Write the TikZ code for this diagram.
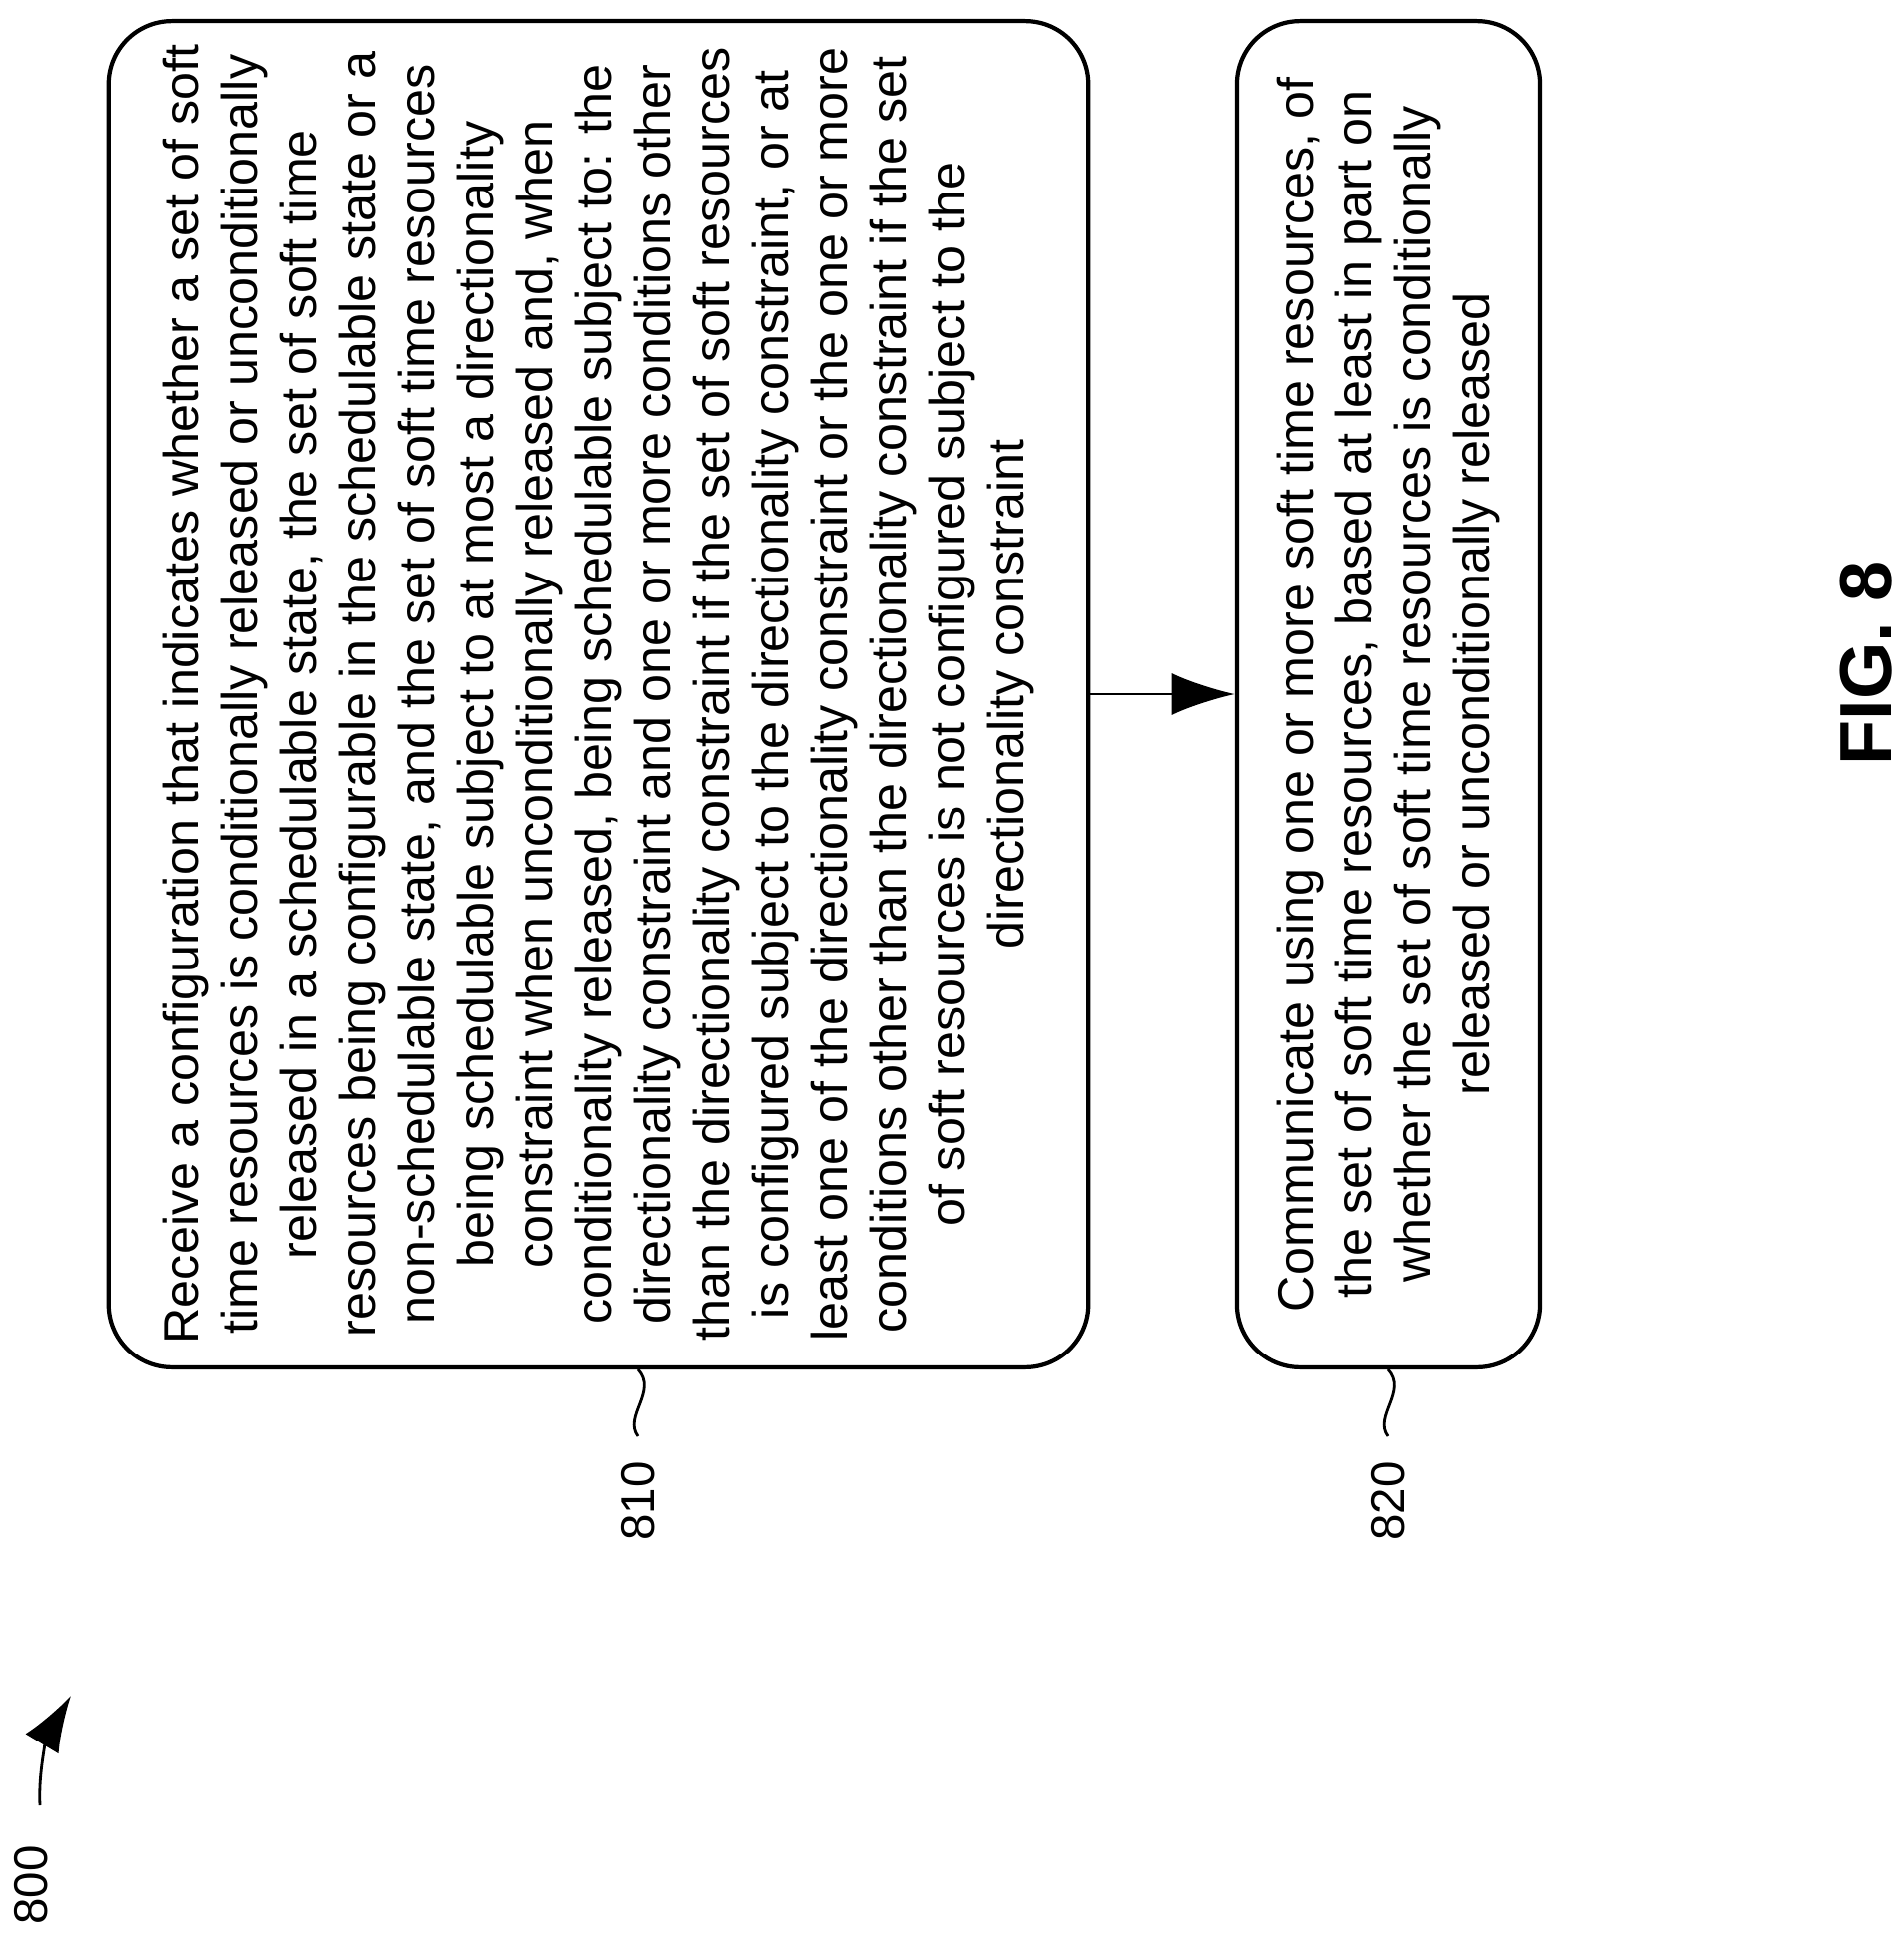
\documentclass[tikz,border=0pt]{standalone}
\usepackage{fontspec}
\setmainfont{Liberation Sans}
\usetikzlibrary{positioning,arrows.meta}
\tikzset{
  stepbox/.style={draw, very thick, rounded corners=18pt, rotate=90, align=center,
    font=\fontsize{14.3}{16.8}\selectfont},
  reflabel/.style={rotate=90, font=\fontsize{13.5}{15}\selectfont},
  squig/.style={thick},
}
\begin{document}
\begin{tikzpicture}[x=0.01cm, y=-0.01cm]
\useasboundingbox (0,0) rectangle (1909,1939);
% boxes
\node[stepbox, minimum width=13.49cm, minimum height=9.82cm] (b810) at (600,696) {Receive a configuration that indicates whether a set of soft\\
time resources is conditionally released or unconditionally\\
released in a schedulable state, the set of soft time\\
resources being configurable in the schedulable state or a\\
non-schedulable state, and the set of soft time resources\\
being schedulable subject to at most a directionality\\
constraint when unconditionally released and, when\\
conditionality released, being schedulable subject to: the\\
directionality constraint and one or more conditions other\\
than the directionality constraint if the set of soft resources\\
is configured subject to the directionality constraint, or at\\
least one of the directionality constraint or the one or more\\
conditions other than the directionality constraint if the set\\
of soft resources is not configured subject to the\\
directionality constraint};
\node[stepbox, minimum width=13.49cm, minimum height=3.04cm] (b820) at (1392,696) {Communicate using one or more soft time resources, of\\
the set of soft time resources, based at least in part on\\
whether the set of soft time resources is conditionally\\
released or unconditionally released};
\draw[thick, -{Latex[length=18pt,width=12pt]}] (b810.south) -- (b820.north);
% reference numerals
\coordinate (s810) at (640,1373);
\coordinate (s820) at (1392,1373);
\draw[squig] (s810) .. controls (660,1395) and (625,1420) .. (640,1440);
\draw[squig] (s820) .. controls (1412,1395) and (1377,1420) .. (1392,1440);
\node[reflabel] (l810) at (640,1505) {810};
\node[reflabel] (l820) at (1392,1505) {820};
\node[reflabel] (l800) at (31,1890) {800};
\coordinate (a800) at (40,1810);
\coordinate (t800) at (71,1700);
\draw[thick, -{Latex[length=16pt,width=11pt]}] (a800) .. controls (38,1770) and (50,1735) .. (t800);
\node[rotate=90, font=\bfseries\fontsize{21}{24}\selectfont] (fig) at (1871,665) {FIG. 8};
\end{tikzpicture}
\end{document}
